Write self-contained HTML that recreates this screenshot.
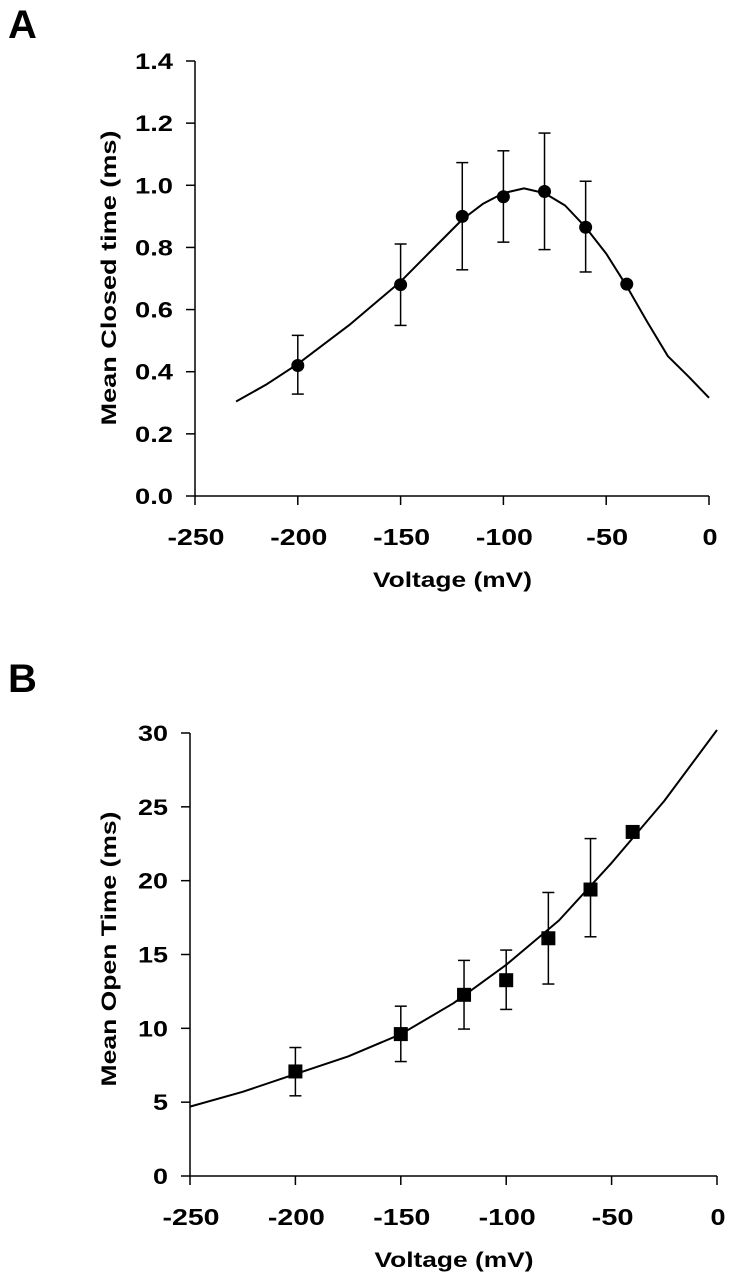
<!DOCTYPE html>
<html><head><meta charset="utf-8"><style>
body{margin:0;background:#fff}
svg{display:block}
text{font-family:"Liberation Sans",Arial,sans-serif;font-weight:bold;fill:#000}
</style></head><body>
<svg id="s" width="730" height="1280" viewBox="0 0 730 1280">
<text x="8" y="38" font-size="40">A</text>
<text x="8" y="692" font-size="40">B</text>
</svg>
<script>
const xTicks=[-250,-200,-150,-100,-50,0];
const aYTicks=[0,0.2,0.4,0.6,0.8,1.0,1.2,1.4];
const aX=[-200,-150,-120,-100,-80,-60,-40];
const aY=[0.42,0.68,0.90,0.963,0.98,0.865,0.682];
const aHi=[0.517,0.811,1.073,1.111,1.168,1.013,null];
const aLo=[0.328,0.549,0.728,0.817,0.793,0.721,null];
const aFitX=[-230,-215,-200,-175,-150,-135,-120,-110,-100,-90,-80,-70,-60,-50,-40,-30,-20,-10,0];
const aFitY=[0.304,0.36,0.425,0.55,0.69,0.79,0.89,0.94,0.975,0.99,0.975,0.935,0.865,0.78,0.675,0.56,0.45,0.385,0.316];
const bYTicks=[0,5,10,15,20,25,30];
const bX=[-200,-150,-120,-100,-80,-60,-40];
const bY=[7.08,9.61,12.27,13.26,16.1,19.4,23.3];
const bHi=[8.7,11.5,14.6,15.3,19.2,22.85,null];
const bLo=[5.43,7.75,9.95,11.28,13.0,16.2,null];
const bFitX=[-250,-225,-200,-175,-150,-125,-100,-75,-50,-25,0];
const bFitY=[4.7,5.7,6.9,8.1,9.6,11.7,14.3,17.3,21.2,25.4,30.2];

const s=document.getElementById('s');
const NS='http://www.w3.org/2000/svg';
function mk(t,a){const e=document.createElementNS(NS,t);for(const k in a)e.setAttribute(k,a[k]);s.appendChild(e);return e;}
function tw(str){let w=0;for(const c of str)w+=(c==='-'?12:c==='.'?8:15);return w;}

function panel(p){
  const sx=v=>p.x0+(v+250)/250*(p.x1-p.x0);
  const sy=v=>p.y0-(v/p.ymax)*(p.y0-p.y1);
  let e=mk('line',{x1:p.x0,y1:p.y1,x2:p.x0,y2:p.y0,stroke:'#000','stroke-width':1.5});
  
  
  e=mk('line',{x1:p.x0,y1:p.y0,x2:p.x1,y2:p.y0,stroke:'#000','stroke-width':1.5});
  
  
  p.yt.forEach(v=>{
    mk('line',{x1:p.x0-9,y1:sy(v),x2:p.x0,y2:sy(v),stroke:'#000','stroke-width':1.5});
    const str=p.fmt(v), w=tw(str);
    const t=mk('text',{x:p.x0-22-w,y:sy(v)+8,'font-size':22,textLength:w,lengthAdjust:'spacingAndGlyphs'});
    t.textContent=str;
    
    
  });
  xTicks.forEach(v=>{
    mk('line',{x1:sx(v),y1:p.y0,x2:sx(v),y2:p.y0+9,stroke:'#000','stroke-width':1.5});
    const str=String(v), w=tw(str);
    const t=mk('text',{x:sx(v)+1-w/2,y:p.y0+49,'font-size':23,textLength:w,lengthAdjust:'spacingAndGlyphs'});
    t.textContent=str;
    
    
  });
  let t=mk('text',{x:(p.x0+p.x1)/2-79,y:p.y0+91,'font-size':21,textLength:159,lengthAdjust:'spacingAndGlyphs'});
  t.textContent='Voltage  (mV)';
  
  
  t=mk('text',{x:-p.tlen/2,y:0,'font-size':21,textLength:p.tlen,lengthAdjust:'spacingAndGlyphs',transform:`translate(${p.titleX},${p.tcy}) rotate(-90)`});
  t.textContent=p.ytitle;
  
  
  const d=p.fx.map((v,i)=>(i?'L':'M')+sx(v).toFixed(1)+','+sy(p.fy[i]).toFixed(1)).join(' ');
  e=mk('path',{d:d,fill:'none',stroke:'#000','stroke-width':2,'stroke-linejoin':'round'});
  
  
  p.dx.forEach((v,i)=>{
    const x=sx(v);
    if(p.hi[i]!=null){
      const g=[[x,sy(p.lo[i]),x,sy(p.hi[i])],[x-6,sy(p.hi[i]),x+6,sy(p.hi[i])],[x-6,sy(p.lo[i]),x+6,sy(p.lo[i])]];
      g.forEach(l=>{const el=mk('line',{x1:l[0],y1:l[1],x2:l[2],y2:l[3],stroke:'#000','stroke-width':1.5});
        
        });
    }
    let m;
    if(p.sq) m=mk('rect',{x:x-7,y:sy(p.dy[i])-7,width:14,height:14,fill:'#000'});
    else m=mk('circle',{cx:x,cy:sy(p.dy[i]),r:6.5,fill:'#000'});
    
    
  });
}
panel({id:'panel-a',x0:195,x1:709,y0:496,y1:61,ymax:1.4,yt:aYTicks,fmt:v=>v.toFixed(1),
  ytitle:'Mean Closed time (ms)',titleX:116,tcy:278,tlen:295,fx:aFitX,fy:aFitY,dx:aX,dy:aY,hi:aHi,lo:aLo,sq:false});
panel({id:'panel-b',x0:190,x1:717,y0:1176,y1:733,ymax:30,yt:bYTicks,fmt:v=>String(v),
  ytitle:'Mean Open Time (ms)',titleX:116,tcy:949,tlen:275,fx:bFitX,fy:bFitY,dx:bX,dy:bY,hi:bHi,lo:bLo,sq:true});
</script>
</body></html>
